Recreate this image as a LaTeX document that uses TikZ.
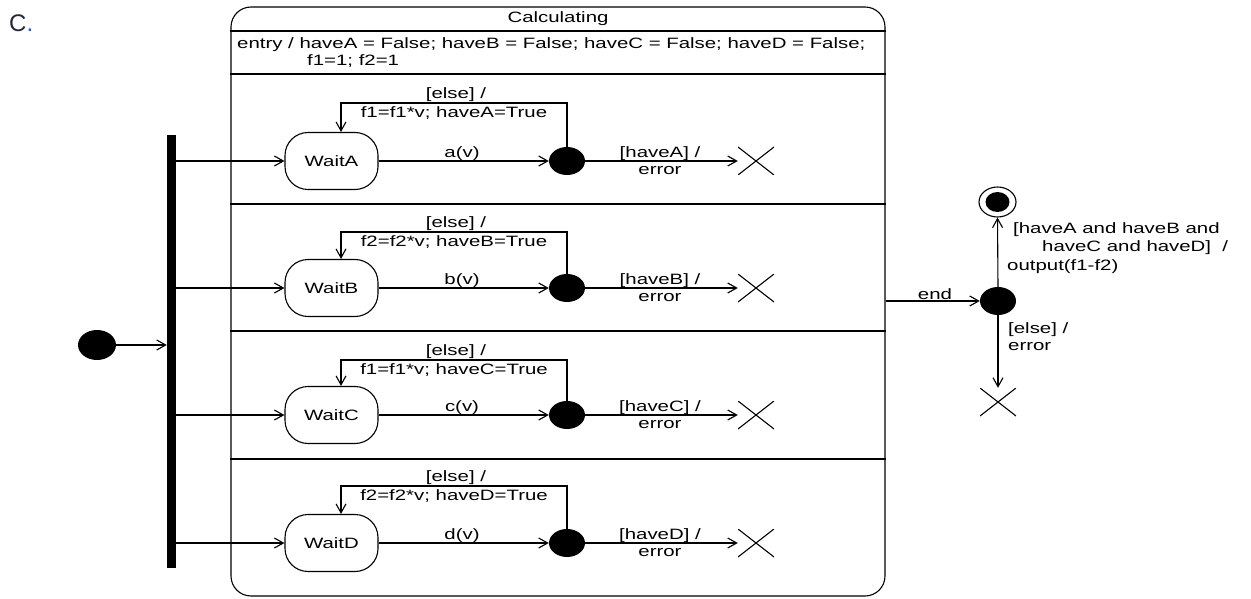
\documentclass[tikz,border=0pt]{standalone}
\usepackage{fontspec}
\setmainfont{Liberation Sans}[FakeStretch=1.36]
\newfontfamily\plainsans{Liberation Sans}
\usetikzlibrary{arrows.meta,shapes.geometric}
\definecolor{labelnavy}{RGB}{35,40,60}
\definecolor{dotblue}{RGB}{40,90,200}
\begin{document}
\begin{tikzpicture}[x=1pt,y=-1pt,
  every node/.style={font=\fontsize{15}{17}\selectfont, inner sep=0pt},
  ln/.style={line width=1.1pt},
  arr/.style={ln, -{Straight Barb[length=9pt,width=10pt,line width=1.1pt]}},
  waitbox/.style={draw, ln, rounded corners=23pt, minimum width=93pt, minimum height=57pt},
  choice/.style={ellipse, fill=black, minimum width=36pt, minimum height=28pt},
  xmark/.style={minimum width=36pt, minimum height=28pt,
    path picture={\draw[ln] (path picture bounding box.south west) -- (path picture bounding box.north east)
      (path picture bounding box.north west) -- (path picture bounding box.south east);}},
  lbl/.style={}
]
\useasboundingbox[fill=white] (0,0) rectangle (1251,599);

% label C.
\node[font=\plainsans\fontsize{24}{26}\selectfont, anchor=west] (tag) at (9,23) {\textcolor{labelnavy}{C}\textcolor{dotblue}{.}};

% composite state
\node[draw, ln, rounded corners=20pt, minimum width=654pt, minimum height=589pt] (calc) at (558,301.5) {};
\node (title) at (558,19) {Calculating};
\draw[ln] (calc.west |- 0,31) coordinate (t1) -- (calc.east |- t1);
\node[anchor=west] (entry1) at (237,45) {entry / haveA = False; haveB = False; haveC = False; haveD = False;};
\node[anchor=west] (entry2) at (307,61) {f1=1; f2=1};
\draw[ln] (calc.west |- 0,74) coordinate (t2) -- (calc.east |- t2);
\draw[ln] (calc.west |- 0,204) coordinate (s1) -- (calc.east |- s1);
\draw[ln] (calc.west |- 0,331) coordinate (s2) -- (calc.east |- s2);
\draw[line width=1.8pt] (calc.west |- 0,459) coordinate (s3) -- (calc.east |- s3);

% initial + fork bar
\node[ellipse, fill=black, minimum width=38pt, minimum height=30pt] (init) at (97,345) {};
\node[fill=black, minimum width=9pt, minimum height=433pt] (bar) at (171.5,351.5) {};
\draw[arr] (init) -- (bar.west |- init);

% rows
\foreach \r/\Y/\L/\ev/\act/\g in {
  a/161/103/a(v)/{f1=f1*v; haveA=True}/{[haveA] /},
  b/288/232/b(v)/{f2=f2*v; haveB=True}/{[haveB] /},
  c/415/360/c(v)/{f1=f1*v; haveC=True}/{[haveC] /},
  d/543/486/d(v)/{f2=f2*v; haveD=True}/{[haveD] /}}{
  \node[waitbox] (w\r) at (331.5,\Y) {};
  \node[choice] (c\r) at (567,\Y) {};
  \node[xmark] (x\r) at (756,\Y) {};
  \draw[arr] (bar.east |- w\r.west) -- (w\r.west);
  \draw[arr] (w\r.east) -- (c\r.west);
  \draw[arr] (c\r.east) -- (x\r.west);
  \coordinate (l\r) at (341,\L);
  \draw[arr] (c\r.north) |- (l\r) -- (l\r |- w\r.north);
  \node (ev\r) at (462,\Y-7.5) {\ev};
  \node (el\r) at (456,\L-8) {[else] /};
  \node (ac\r) at (454,\L+10.5) {\act};
  \node (g\r) at (660,\Y-7) {\g};
  \node (er\r) at (660,\Y+9.5) {error};
}
\node (wna) at (wa) {WaitA};
\node (wnb) at (wb) {WaitB};
\node (wnc) at (wc) {WaitC};
\node (wnd) at (wd) {WaitD};

% right side
\node[choice] (dec) at (998,301) {};
\node[ellipse, draw, ln, minimum width=37pt, minimum height=30pt] (fin) at (997.5,202) {};
\node[ellipse, fill=black, minimum width=24pt, minimum height=20pt] (finin) at (fin) {};
\node[xmark] (xe) at (998,402) {};
\draw[arr] (calc.east |- dec.west) -- (dec.west);
\node (endl) at (935,294) {end};
\draw[arr] (dec.north) -- (fin.south);
\draw[arr] (dec.south) -- (xe.north);
\node[anchor=west] (g1) at (1013,230) {[haveA and haveB and};
\node[anchor=west] (g2) at (1042,248) {haveC and haveD]\ \ /};
\node[anchor=west] (g3) at (1007,267) {output(f1-f2)};
\node[anchor=west] (g4) at (1008,330) {[else] /};
\node[anchor=west] (g5) at (1008,347) {error};
\end{tikzpicture}
\end{document}
